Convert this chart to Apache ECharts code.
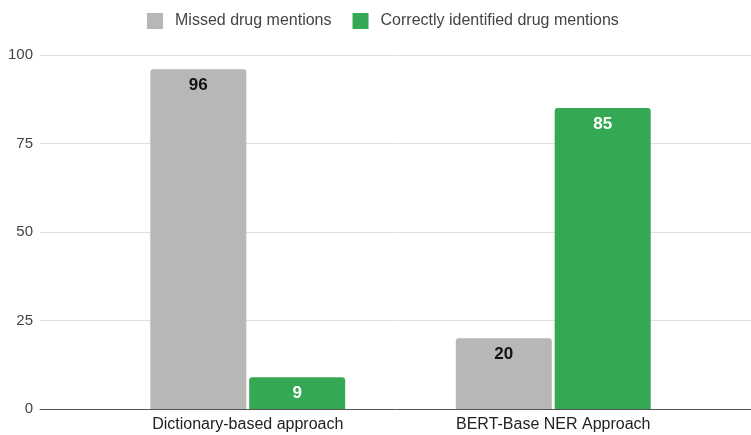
<!DOCTYPE html>
<html>
<head>
<meta charset="utf-8">
<script src="https://cdn.jsdelivr.net/npm/echarts@6/dist/echarts.min.js"></script>
<style>
  html, body { margin: 0; padding: 0; background: #fff; }
  #main { width: 751px; height: 435px; }
</style>
</head>
<body>
<div id="main"></div>
<script>
// data
const categories = ['Dictionary-based approach', 'BERT-Base NER Approach'];
const missed = [96, 20];
const correct = [9, 85];
const yTicks = { min: 0, max: 100, interval: 25 };

const chart = echarts.init(document.getElementById('main'));

const font = 'Arial, "Liberation Sans", sans-serif';

const option = {
    animation: false,
    textStyle: { fontFamily: font },
    legend: {
        top: 8,
        left: 142,
        itemWidth: 16,
        itemHeight: 16,
        itemGap: 21,
        icon: 'rect',
        textStyle: { fontSize: 16, color: '#444', fontFamily: font, padding: [0, 0, 0, 7] },
        data: ['Missed drug mentions', 'Correctly identified drug mentions']
    },
    grid: [
        // full width grid: gridlines + baseline
        { left: 40, right: 0, top: 55, bottom: 26 },
        // bars
        { left: 95, right: 45, top: 55, bottom: 26 }
    ],
    xAxis: [
        {
            gridIndex: 0, type: 'category', data: [''],
            axisLine: { show: true, lineStyle: { color: '#555', width: 1 } },
            axisTick: { show: false }, axisLabel: { show: false }
        },
        {
            gridIndex: 1, type: 'category', data: categories,
            axisLine: { show: false }, axisTick: { show: false },
            axisLabel: { color: '#222', fontSize: 16, margin: 8, fontFamily: font }
        }
    ],
    yAxis: [
        {
            gridIndex: 0, type: 'value',
            min: yTicks.min, max: yTicks.max, interval: yTicks.interval,
            axisLine: { show: false }, axisTick: { show: false },
            axisLabel: { color: '#444', fontSize: 15, margin: 7, fontFamily: font },
            splitLine: { lineStyle: { color: '#e0e0e0', width: 1 } }
        },
        {
            gridIndex: 1, type: 'value',
            min: yTicks.min, max: yTicks.max, interval: yTicks.interval,
            show: false, splitLine: { show: false }
        }
    ],
    series: [
        {
            name: 'Missed drug mentions',
            type: 'bar',
            xAxisIndex: 1, yAxisIndex: 1,
            data: missed,
            barWidth: 96,
            barGap: '3%',
            itemStyle: { color: '#b7b7b7', borderRadius: [3, 3, 0, 0] },
            label: {
                show: true, position: 'insideTop', distance: 8,
                color: '#111', fontSize: 17, fontWeight: 'bold', fontFamily: font
            }
        },
        {
            name: 'Correctly identified drug mentions',
            type: 'bar',
            xAxisIndex: 1, yAxisIndex: 1,
            data: correct,
            barWidth: 96,
            itemStyle: { color: '#34a853', borderRadius: [3, 3, 0, 0] },
            label: {
                show: true, position: 'insideTop', distance: 8,
                color: '#fff', fontSize: 17, fontWeight: 'bold', fontFamily: font
            }
        }
    ]
};

chart.setOption(option);
</script>
</body>
</html>
